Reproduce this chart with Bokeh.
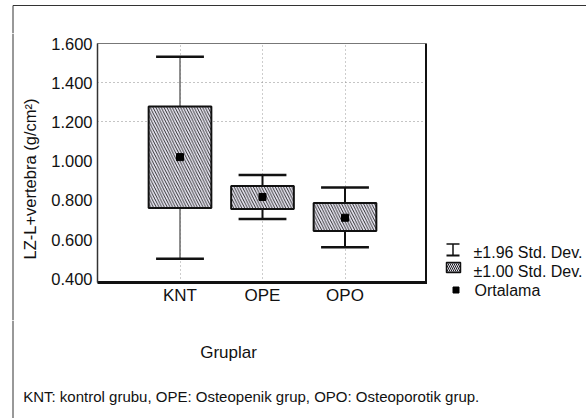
from math import pi
from bokeh.plotting import figure
from bokeh.layouts import column, row
from bokeh.models import (Range1d, FixedTicker, Span, ColumnDataSource, PrintfTickFormatter)
from bokeh.core.properties import value
from bokeh.transform import dodge
from bokeh.embed import file_html
from bokeh.resources import INLINE

# ---- data ----
groups = ["KNT", "OPE", "OPO"]
means = [1.021, 0.818, 0.712]
sd1_low = [0.762, 0.757, 0.644]
sd1_high = [1.279, 0.874, 0.787]
sd196_low = [0.503, 0.705, 0.562]
sd196_high = [1.532, 0.930, 0.866]
y_ticks = [0.4, 0.6, 0.8, 1.0, 1.2, 1.4, 1.6]
y_grid_values = [1.2, 1.4]

y_title = "LZ-L+vertebra (g/cm²)"
x_title = "Gruplar"
caption = "KNT: kontrol grubu, OPE: Osteopenik grup, OPO: Osteoporotik grup."
legend_texts = ["±1.96 Std. Dev.", "±1.00 Std. Dev.", "Ortalama"]

# ---- styles ----
FONT = "Liberation Sans"
TXT = "#111111"
FRAME = "#333333"
BOX_FILL = "#e8e6f2"
stem_colors = ["#6a6a6a", "#111111", "#111111"]
stem_widths = [1.5, 2.0, 2.0]

W, H = 586, 418
TOP_H, BOT_H = 33, 98
MID_H = H - TOP_H - BOT_H
LEFT_W, LEG_W = 45, 159
MAIN_W = W - LEFT_W - LEG_W


def blank(width, height, x0, x1, y_top, y_bottom):
    """A figure without axes whose ranges are the page's pixel coordinates."""
    f = figure(width=width, height=height, x_range=Range1d(x0, x1),
               y_range=Range1d(y_bottom, y_top), output_backend="svg",
               toolbar_location=None, x_axis_location=None, y_axis_location=None,
               min_border=0, background_fill_color="white", border_fill_color="white")
    f.outline_line_color = None
    f.grid.visible = False
    return f


# ================= main chart =================
pos = [i + 1 for i in range(len(groups))]
p = figure(width=MAIN_W, height=MID_H, x_range=Range1d(0, len(groups) + 1),
           y_range=Range1d(0.382, 1.6), output_backend="svg", toolbar_location=None,
           min_border_left=97 - LEFT_W, min_border_right=0, min_border_top=43 - TOP_H,
           min_border_bottom=TOP_H + MID_H - 282,
           background_fill_color="white", border_fill_color="white")
p.outline_line_color = "#777777"
p.outline_line_width = 1

p.xaxis.ticker = FixedTicker(ticks=pos)
p.xaxis.major_label_overrides = {x: g for x, g in zip(pos, groups)}
p.yaxis.ticker = FixedTicker(ticks=y_ticks)
p.yaxis.formatter = PrintfTickFormatter(format="%.3f")
for ax in (p.xaxis[0], p.yaxis[0]):
    ax.major_tick_in = 0
    ax.major_tick_out = 0
    ax.minor_tick_in = 0
    ax.minor_tick_out = 0
    ax.major_label_text_font = FONT
    ax.major_label_text_color = TXT
p.yaxis.major_label_text_font_size = "16.5px"
p.yaxis.major_label_standoff = 5
p.yaxis.axis_line_width = 1.5
p.yaxis.axis_line_color = FRAME
p.xaxis.major_label_text_font_size = "17px"
p.xaxis.major_label_standoff = 3
p.xaxis.axis_line_width = 3
p.xaxis.axis_line_color = "#111111"

p.add_layout(Span(location=len(groups) + 1, dimension="height", line_color="#111111", line_width=5))

p.xgrid.ticker = FixedTicker(ticks=pos)
p.ygrid.ticker = FixedTicker(ticks=y_grid_values)
p.xgrid.grid_line_color = "#9a9a9a"
p.xgrid.grid_line_dash = "1 3"
p.ygrid.grid_line_color = "#8a8a8a"
p.ygrid.grid_line_dash = "1 3"

src = ColumnDataSource(dict(x=pos, mean=means, lo1=sd1_low, hi1=sd1_high,
                            lo2=sd196_low, hi2=sd196_high, sc=stem_colors, sw=stem_widths))
p.segment(x0="x", y0="lo2", x1="x", y1="hi2", line_color="sc", line_width="sw", source=src)
p.vbar(x="x", bottom="lo1", top="hi1", width=0.76, source=src,
       fill_color=BOX_FILL, line_color="#111111", line_width=2,
       hatch_pattern="left_diagonal_line", hatch_scale=5.5, hatch_weight=0.9,
       hatch_color="#1a1a1a")
for key in ("lo2", "hi2"):
    p.segment(x0=dodge("x", -0.29), y0=key, x1=dodge("x", 0.29), y1=key,
              line_color="#111111", line_width=2.5, source=src)
p.scatter(x="x", y="mean", marker="square", size=7, color="black", source=src)

# ================= strips around the chart (page pixel coordinates) =================
p_top = blank(W, TOP_H, 0, W, 0, TOP_H)
p_top.segment(x0=[12.5, 12.5], y0=[5, 5], x1=[W, 12.5], y1=[5, TOP_H],
              line_color=FRAME, line_width=1)

p_left = blank(LEFT_W, MID_H, 0, LEFT_W, TOP_H, TOP_H + MID_H)
p_left.add_layout(Span(location=12.5, dimension="height", line_color=FRAME, line_width=1))
p_left.text(x=[29], y=[178.5], text=[y_title], angle=pi / 2, text_align="center",
            text_baseline="middle", text_font=value(FONT), text_font_size="16.5px",
            text_color=TXT)

x_leg = W - LEG_W
p_leg = blank(LEG_W, MID_H, x_leg, W, TOP_H, TOP_H + MID_H)
# legend icons: whisker, hatched box, mean square
p_leg.segment(x0=[446, 452.5, 446], y0=[243.5, 243.5, 255], x1=[459, 452.5, 459],
              y1=[243.5, 255, 255], line_color="#111111", line_width=[1.5, 1.5, 2])
p_leg.quad(left=[446], right=[460], top=[262], bottom=[272], fill_color=BOX_FILL,
           line_color="#111111", line_width=1.5, hatch_pattern="left_diagonal_line",
           hatch_scale=4, hatch_weight=1.0, hatch_color="#1a1a1a")
p_leg.scatter(x=[455.5], y=[289.5], marker="square", size=6, color="black")
p_leg.text(x=[473, 473, 474], y=[252, 271, 290.3], text=legend_texts,
           text_align="left", text_baseline="alphabetic", text_font=value(FONT),
           text_font_size="16px", text_color=TXT)

p_bot = blank(W, BOT_H, 0, W, TOP_H + MID_H, H)
p_bot.add_layout(Span(location=12.5, dimension="height", line_color=FRAME, line_width=1))
p_bot.text(x=[228], y=[352.2], text=[x_title], text_align="center", text_baseline="alphabetic",
           text_font=value(FONT), text_font_size="17px", text_color=TXT)
p_bot.text(x=[22.7], y=[396], text=[caption], text_align="left", text_baseline="alphabetic",
           text_font=value(FONT), text_font_size="15px", text_color=TXT)

# side strips are wrapped in their own columns so their frames are not aligned to the chart's
middle = row(column(p_left, spacing=0), p, column(p_leg, spacing=0), spacing=0)
layout = column(p_top, middle, p_bot, spacing=0)
open("out.html", "w").write(file_html(layout, INLINE))
